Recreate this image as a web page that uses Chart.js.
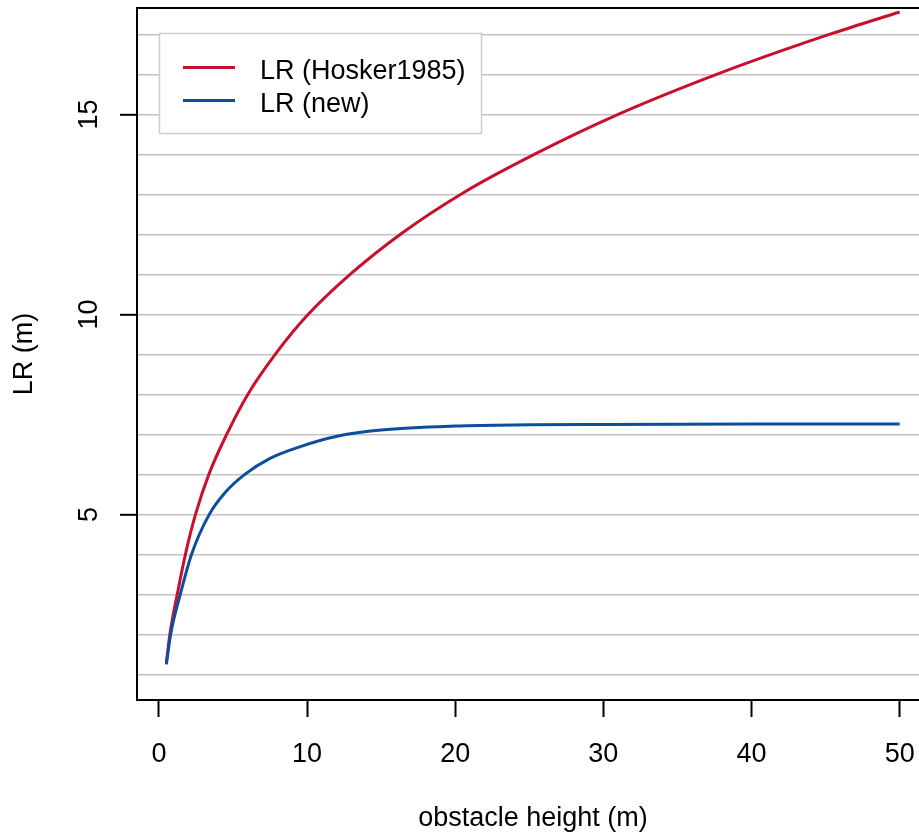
<!DOCTYPE html>
<html>
<head>
<meta charset="utf-8">
<script src="https://cdn.jsdelivr.net/npm/chart.js@4/dist/chart.umd.min.js"></script>
<style>
  html, body { margin: 0; padding: 0; overflow: hidden; background: #fff; }
  #wrap { position: absolute; left: 0; top: 0; width: 940px; height: 834px; }
</style>
</head>
<body>
<div id="wrap"><canvas id="Chart" width="940" height="834"></canvas></div>
<script>
// values (where each curve crosses the grid lines)
const hoskerHeight = [0.5, 0.73, 1.3, 1.83, 2.47, 3.37, 4.6, 6.0, 7.85, 10.0, 13.0, 16.4, 20.5, 25.5, 31.0, 38.0, 45.5, 50];
const hoskerLR = [1.28, 1.98, 3.12, 4.07, 5.0, 6.0, 7.02, 8.0, 9.0, 9.97, 11.03, 12.03, 13.03, 14.03, 15.0, 16.05, 17.03, 17.56];

const newHeight = [0.5, 0.79, 1.44, 2.2, 3.4, 4.5, 5.8, 7.5, 9.5, 12.1, 15, 20, 25, 30, 40, 50];
const newLR = [1.25, 2.0, 3.0, 4.0, 5.0, 5.56, 6.0, 6.4, 6.69, 6.96, 7.11, 7.21, 7.24, 7.25, 7.26, 7.26];

const xTicks = [0, 10, 20, 30, 40, 50];
const yTicks = [5, 10, 15];
const yGrid = [1, 2, 3, 4, 5, 6, 7, 8, 9, 10, 11, 12, 13, 14, 15, 16, 17];

const FONT = '27px "Liberation Sans", Arial, sans-serif';

const toPoints = (xs, ys) => xs.map((x, i) => ({ x: x, y: ys[i] }));

// text, box and legend in the R base-graphics style
const rStyle = {
  id: "rStyle",
  afterDraw(chart) {
    const c = chart.ctx;
    const a = chart.chartArea;
    const xs = chart.scales.x;
    const ys = chart.scales.y;
    c.save();
    c.fillStyle = "#000";
    c.font = FONT;

    // top border
    c.strokeStyle = "#000";
    c.lineWidth = 2;
    c.beginPath();
    c.moveTo(a.left - 1, a.top);
    c.lineTo(a.right, a.top);
    c.stroke();

    // x tick labels
    c.textAlign = "center";
    c.textBaseline = "alphabetic";
    xTicks.forEach((v) => {
      c.fillText(String(v), xs.getPixelForValue(v), 762);
    });
    c.fillText("obstacle height (m)", (a.left + a.right) / 2, 826);

    // y tick labels (rotated)
    yTicks.forEach((v) => {
      c.save();
      c.translate(a.left - 40, ys.getPixelForValue(v));
      c.rotate(-Math.PI / 2);
      c.fillText(String(v), 0, 0);
      c.restore();
    });
    c.save();
    c.translate(32, (a.top + a.bottom) / 2);
    c.rotate(-Math.PI / 2);
    c.fillText("LR (m)", 0, 0);
    c.restore();

    // legend
    const lx = 159.5, ly = 33.5, lw = 322, lh = 100;
    c.fillStyle = "#fff";
    c.fillRect(lx, ly, lw, lh);
    c.strokeStyle = "#CCCCCC";
    c.lineWidth = 1.5;
    c.strokeRect(lx, ly, lw, lh);
    c.textAlign = "left";
    chart.data.datasets.forEach((ds, i) => {
      const yy = 67.5 + i * 33;
      c.strokeStyle = ds.borderColor;
      c.lineWidth = 3;
      c.beginPath();
      c.moveTo(183, yy);
      c.lineTo(235, yy);
      c.stroke();
      c.fillStyle = "#000";
      c.fillText(ds.label, 260, yy + 11);
    });
    c.restore();
  },
};

new Chart(document.getElementById("Chart"), {
  type: "line",
  data: {
    datasets: [
      {
        label: "LR (Hosker1985)",
        data: toPoints(hoskerHeight, hoskerLR),
        borderColor: "#C8102E",
        borderWidth: 3,
        pointRadius: 0,
        cubicInterpolationMode: "monotone",
        order: 1,
      },
      {
        label: "LR (new)",
        data: toPoints(newHeight, newLR),
        borderColor: "#0B4E9C",
        borderWidth: 3,
        pointRadius: 0,
        cubicInterpolationMode: "monotone",
        order: 0,
      },
    ],
  },
  options: {
    responsive: false,
    animation: false,
    layout: { padding: { left: 137, top: 8, right: 11, bottom: 134 } },
    plugins: { legend: { display: false }, tooltip: { enabled: false } },
    scales: {
      x: {
        type: "linear",
        min: -1.48,
        max: 51.98,
        afterBuildTicks: (s) => { s.ticks = xTicks.map((v) => ({ value: v })); },
        afterFit: (s) => { s.height = 0; },
        ticks: { display: false },
        grid: {
          drawOnChartArea: false,
          tickLength: 17,
          tickColor: "#000",
          tickWidth: 2,
        },
        border: { color: "#000", width: 2 },
      },
      y: {
        type: "linear",
        min: 0.36,
        max: 17.66,
        afterBuildTicks: (s) => { s.ticks = yGrid.map((v) => ({ value: v })); },
        afterFit: (s) => { s.width = 0; },
        ticks: { display: false },
        grid: {
          color: "#C4C4C4",
          lineWidth: 1.6,
          tickLength: 17,
          tickWidth: 2,
          tickColor: (ctx) => (yTicks.includes(ctx.tick.value) ? "#000" : "rgba(0,0,0,0)"),
        },
        border: { color: "#000", width: 2 },
      },
    },
  },
  plugins: [rStyle],
});
</script>
</body>
</html>
